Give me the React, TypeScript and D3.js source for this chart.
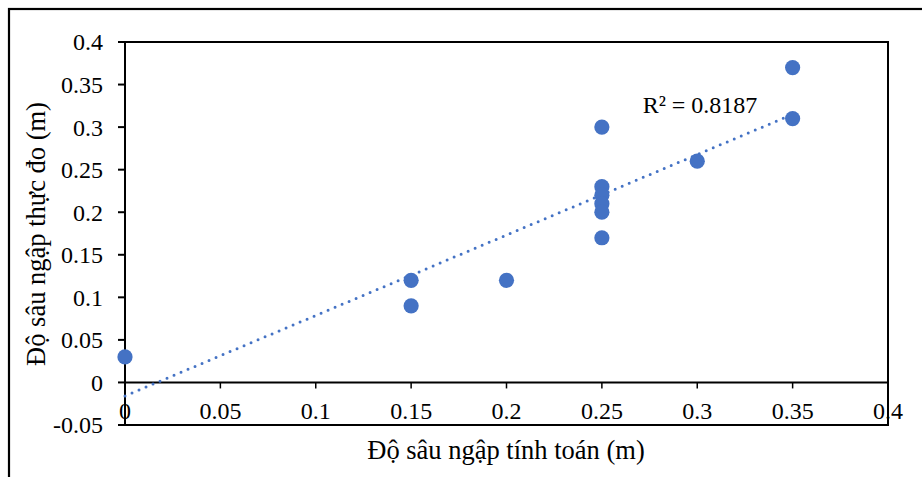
import React from "react";
import * as d3 from "d3";

const xValues = [0, 0.15, 0.15, 0.2, 0.25, 0.25, 0.25, 0.25, 0.25, 0.25, 0.3, 0.35, 0.35];
const yValues = [0.03, 0.12, 0.09, 0.12, 0.3, 0.23, 0.22, 0.21, 0.2, 0.17, 0.26, 0.37, 0.31];
const xTicks = [0, 0.05, 0.1, 0.15, 0.2, 0.25, 0.3, 0.35, 0.4];
const yTicks = [-0.05, 0, 0.05, 0.1, 0.15, 0.2, 0.25, 0.3, 0.35, 0.4];
const xTitle = "Độ sâu ngập tính toán (m)";
const yTitle = "Độ sâu ngập thực đo (m)";
const r2Label = "R² = 0.8187";

const W = 922;
const H = 477;
const plot = { left: 125, right: 888, top: 42, bottom: 425 };
const FONT = "Liberation Serif";
const BLUE = "#4472C4";

export default function App() {
  const x = d3.scaleLinear().domain([0, 0.4]).range([plot.left, plot.right]);
  const y = d3.scaleLinear().domain([-0.05, 0.4]).range([plot.bottom, plot.top]);

  const n = xValues.length;
  const mx = d3.mean(xValues) as number;
  const my = d3.mean(yValues) as number;
  let sxy = 0, sxx = 0;
  for (let i = 0; i < n; i++) {
    sxy += (xValues[i] - mx) * (yValues[i] - my);
    sxx += (xValues[i] - mx) * (xValues[i] - mx);
  }
  const slope = sxy / sxx;
  const intercept = my - slope * mx;
  const x0 = d3.min(xValues) as number;
  const x1 = d3.max(xValues) as number;
  const trend = d3.line<number>().x((d) => x(d)).y((d) => y(intercept + slope * d))([x0, x1]) as string;

  const fmt = (v: number) => (Math.abs(v) < 1e-9 ? "0" : String(+v.toFixed(2)));
  const y0 = y(0);

  return (
    <svg width={W} height={H} style={{ position: "absolute", left: 0, top: 0, background: "#fff", fontFamily: FONT }}>
      <rect x={0} y={0} width={W} height={H} fill="#fff" />
      <rect x={9} y={9} width={W + 20} height={H + 20} fill="none" stroke="#000" strokeWidth={2.2} />
      <rect x={plot.left} y={plot.top} width={plot.right - plot.left} height={plot.bottom - plot.top} fill="none" stroke="#000" strokeWidth={2} />
      <line x1={plot.left} x2={plot.left} y1={plot.top} y2={plot.bottom} stroke="#000" strokeWidth={2} />
      {yTicks.map((t) => (
        <g key={"y" + t}>
          <line x1={plot.left - 7} x2={plot.left} y1={y(t)} y2={y(t)} stroke="#000" strokeWidth={2} />
          <text x={103} y={y(t)} dy="0.35em" textAnchor="end" fontSize={24} fill="#000" fontFamily={FONT}>{fmt(t)}</text>
        </g>
      ))}
      <line x1={plot.left} x2={plot.right} y1={y0} y2={y0} stroke="#000" strokeWidth={2} />
      {xTicks.map((t) => (
        <g key={"x" + t}>
          <line x1={x(t)} x2={x(t)} y1={y0} y2={y0 + 6} stroke="#000" strokeWidth={1.5} />
          <text x={x(t)} y={419} textAnchor="middle" fontSize={24} fill="#000" fontFamily={FONT}>{fmt(t)}</text>
        </g>
      ))}
      <path d={trend} fill="none" stroke={BLUE} strokeWidth={3} strokeLinecap="round" strokeDasharray="0 7.6" />
      {xValues.map((v, i) => (
        <circle key={i} cx={x(v)} cy={y(yValues[i])} r={7.6} fill={BLUE} />
      ))}
      <text x={700} y={113} textAnchor="middle" fontSize={24} fill="#000" fontFamily={FONT}>{r2Label}</text>
      <text x={506} y={459} textAnchor="middle" fontSize={26.5} fill="#000" fontFamily={FONT}>{xTitle}</text>
      <text transform={`translate(45, 234) rotate(-90)`} textAnchor="middle" fontSize={26.5} fill="#000" fontFamily={FONT}>{yTitle}</text>
    </svg>
  );
}
